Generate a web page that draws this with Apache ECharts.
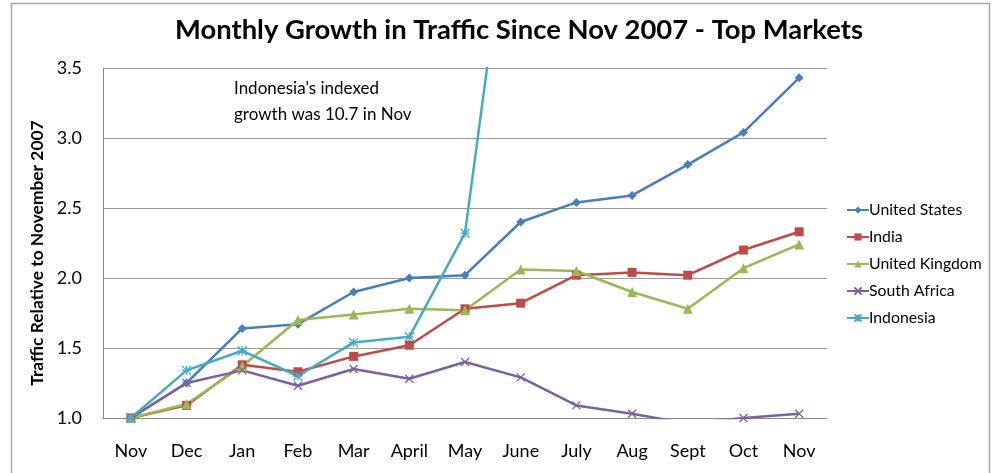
<!DOCTYPE html>
<html>
<head>
<meta charset="utf-8">
<script src="https://cdn.jsdelivr.net/npm/echarts@6/dist/echarts.min.js"></script>
<style>
  html, body { margin: 0; padding: 0; background: #fff; }
  #chart { width: 992px; height: 473px; }
</style>
</head>
<body>
<div id="chart"></div>
<script>
// Month labels, Nov 2007 through Nov 2008
const months = ['Nov', 'Dec', 'Jan', 'Feb', 'Mar', 'April', 'May', 'June', 'July', 'Aug', 'Sept', 'Oct', 'Nov'];

// Traffic indexed to November 2007 = 1.0
const unitedStates = [1.00, 1.25, 1.64, 1.67, 1.90, 2.00, 2.02, 2.40, 2.54, 2.59, 2.81, 3.04, 3.43];
const india        = [1.00, 1.09, 1.38, 1.33, 1.44, 1.52, 1.78, 1.82, 2.02, 2.04, 2.02, 2.20, 2.33];
const unitedKingdom = [1.00, 1.10, 1.37, 1.70, 1.74, 1.78, 1.77, 2.06, 2.05, 1.90, 1.78, 2.07, 2.24];
const southAfrica  = [1.00, 1.25, 1.34, 1.23, 1.35, 1.28, 1.40, 1.29, 1.09, 1.03, 0.96, 1.00, 1.03];
const indonesia    = [1.00, 1.34, 1.48, 1.30, 1.54, 1.58, 2.32, 5.30, 6.60, 7.70, 8.60, 9.60, 10.70];

const yTicks = { min: 1.0, max: 3.5, interval: 0.5 };

const FONT = 'Lato';
const xShape = 'path://M0,0L10,10M10,0L0,10';
const starShape = 'path://M0,0L10,10M10,0L0,10M5,0L5,10M0,5L10,5';

function line(name, data, color, symbol, size, stroked) {
  return {
    name: name,
    type: 'line',
    data: data,
    symbol: symbol,
    symbolSize: size,
    showAllSymbol: true,
    clip: true,
    lineStyle: { color: color, width: 2.5 },
    itemStyle: stroked
      ? { color: color, borderColor: color, borderWidth: 1.3 }
      : { color: color },
    emphasis: { disabled: true }
  };
}

const chart = echarts.init(document.getElementById('chart'), null, { renderer: 'canvas' });
chart.setOption({
  animation: false,
  backgroundColor: '#ffffff',
  title: {
    text: 'Monthly Growth in Traffic Since Nov 2007 - Top Markets',
    left: 514,
    textAlign: 'center',
    top: 12,
    textStyle: { fontFamily: FONT, fontWeight: 'bold', fontSize: 27.4, color: '#000' }
  },
  grid: { left: 103, top: 68, right: 165, bottom: 55, containLabel: false },
  legend: {
    orient: 'vertical',
    left: 841,
    top: 197,
    itemWidth: 22,
    itemHeight: 9,
    itemGap: 11,
    textStyle: { fontFamily: FONT, fontSize: 15.8, color: '#000', padding: [0, 0, 0, -5] },
    data: ['United States', 'India', 'United Kingdom', 'South Africa', 'Indonesia']
  },
  xAxis: {
    type: 'category',
    data: months,
    boundaryGap: true,
    axisLine: { show: true, lineStyle: { color: '#8a8a8a', width: 1 } },
    axisTick: { show: false },
    axisLabel: { fontFamily: FONT, fontSize: 18, color: '#000', margin: 24, interval: 0 },
    splitLine: { show: false }
  },
  yAxis: {
    type: 'value',
    min: yTicks.min,
    max: yTicks.max,
    interval: yTicks.interval,
    axisLine: { show: true, lineStyle: { color: '#8a8a8a', width: 1 } },
    axisTick: { show: false },
    axisLabel: {
      fontFamily: FONT, fontSize: 18, color: '#000', margin: 21,
      formatter: v => v.toFixed(1)
    },
    splitLine: { show: true, lineStyle: { color: '#9a9a9a', width: 1 } }
  },
  graphic: [
    {
      type: 'rect',
      shape: { x: 11.5, y: 3.5, width: 978, height: 490 },
      style: { fill: 'none', stroke: '#a6a6a6', lineWidth: 1.5 },
      silent: true
    },
    {
      type: 'text',
      x: 37,
      y: 253,
      rotation: Math.PI / 2,
      style: {
        text: 'Traffic Relative to November 2007',
        fontFamily: FONT, fontWeight: 'bold', fontSize: 17.4, fill: '#000',
        align: 'center', verticalAlign: 'middle'
      },
      silent: true
    },
    {
      type: 'text',
      x: 234,
      y: 76,
      style: {
        text: "Indonesia's indexed\ngrowth was 10.7 in Nov",
        fontFamily: FONT, fontSize: 17, lineHeight: 26, fill: '#000',
        align: 'left', verticalAlign: 'top'
      },
      silent: true
    }
  ],
  series: [
    line('United States', unitedStates, '#4a7ebb', 'diamond', 9, false),
    line('India', india, '#be4b48', 'rect', 9, false),
    line('United Kingdom', unitedKingdom, '#98b954', 'triangle', 10, false),
    line('South Africa', southAfrica, '#7d60a0', xShape, 8, true),
    line('Indonesia', indonesia, '#46aac5', starShape, 9, true)
  ]
});
</script>
</body>
</html>
